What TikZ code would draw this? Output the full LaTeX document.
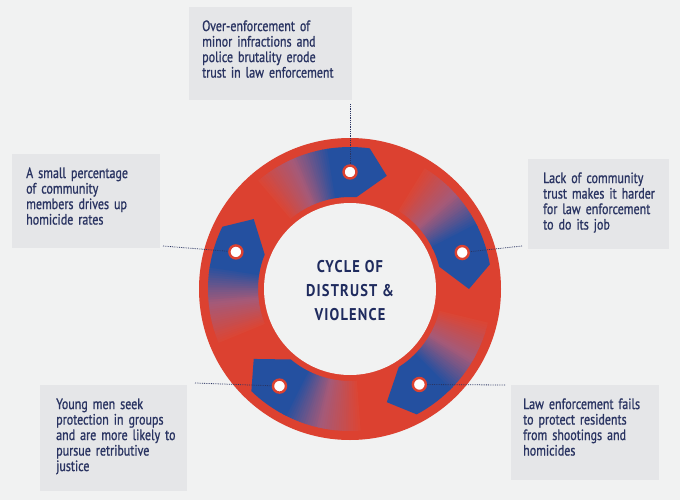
\documentclass[tikz,border=0pt]{standalone}
\usepackage{fontspec}
\setmainfont{PT Sans}[FakeStretch=0.8,FakeBold=1]
\newfontfamily\cycleTitleFont{PT Sans}[LetterSpace=7,FakeStretch=0.85]
\usepackage{tikz}
\usetikzlibrary{positioning}
\definecolor{cycleBg}{HTML}{F1F2F2}
\definecolor{cycleBox}{HTML}{E5E6E8}
\definecolor{cycleInk}{HTML}{2A3462}
\definecolor{cycleTitle}{HTML}{1F2B5E}
\definecolor{cycleRed}{HTML}{DC4130}
\definecolor{cycleFade}{HTML}{DA4636}
\definecolor{cycleMid}{HTML}{A65A78}
\definecolor{cycleBlue}{HTML}{2450A0}
\newcommand{\boxlines}[1]{\begin{tabular}[t]{@{}l@{}}#1\end{tabular}}

\begin{document}
\begin{tikzpicture}[
  x=1pt,y=-1pt,
  font=\fontsize{15}{15.5}\selectfont,
  box/.style={fill=cycleBox,text=cycleInk,anchor=north west,align=left,inner ysep=13pt},
  marker/.style={circle,fill=white,draw=cycleRed,line width=2.4pt,minimum size=13pt,inner sep=0pt},
  leader/.style={draw=cycleInk,densely dotted,line width=0.8pt}
]
\useasboundingbox[fill=cycleBg] (0,0) rectangle (680,500);

\node[box,text width=137pt,inner xsep=13pt,text depth=56pt] (enforce) at (189,7)
  {\boxlines{Over-enforcement of\\minor infractions and\\police brutality erode\\trust in law enforcement}};
\node[box,text width=111pt,inner xsep=15pt,text depth=53pt] (trust) at (528,159)
  {\boxlines{Lack of community\\trust makes it harder\\for law enforcement\\to do its job}};
\node[box,text width=124pt,inner xsep=12pt,text depth=58pt] (fails) at (511,385)
  {\boxlines{Law enforcement fails\\to protect residents\\from shootings and\\homicides}};
\node[box,text width=115pt,inner xsep=16pt,text depth=69pt] (young) at (40,385)
  {\boxlines{Young men seek\\protection in groups\\and are more likely to\\pursue retributive\\justice}};
\node[box,text width=120pt,inner xsep=14pt,text depth=57pt] (small) at (12,154)
  {\boxlines{A small percentage\\of community\\members drives up\\homicide rates}};

\begin{scope}[shift={(350,289)},y=1pt]
  \fill[cycleRed] (0,0) circle[radius=151];
  \fill[cycleBg] (0,0) circle[radius=86];
  \foreach \m in {90,18,-54,-126,162} {
    \foreach \i in {0,...,31} {
      \pgfmathsetmacro{\aa}{\m+40-\i}
      \pgfmathtruncatemacro{\p}{\i*100/31}
      \ifnum\p<50
        \pgfmathtruncatemacro{\q}{2*\p}
        \def\col{cycleMid!\q!cycleFade}
      \else
        \pgfmathtruncatemacro{\q}{2*\p-100}
        \def\col{cycleBlue!\q!cycleMid}
      \fi
      \fill[\col] ({\aa+0.3}:142) arc[start angle=\aa+0.3,end angle=\aa-1,radius=142]
        -- ({\aa-1}:92) arc[start angle=\aa-1,end angle=\aa+0.3,radius=92] -- cycle;
    }
    \fill[cycleBlue] ({\m+8.3}:142) arc[start angle=\m+8.3,end angle=\m-8,radius=142]
      -- ({\m-18}:119) -- ({\m-4}:92) arc[start angle=\m-4,end angle=\m+8.3,radius=92] -- cycle;
  }
  \node[marker] (m1) at (90:117) {};
  \node[marker] (m2) at (18:118) {};
  \node[marker] (m3) at (-54:118) {};
  \node[marker] (m4) at (-126:120) {};
  \node[marker] (m5) at (162:120) {};
  \node[font=\cycleTitleFont\bfseries\fontsize{17}{24}\selectfont,text=cycleTitle,align=center] (title) at (0,-2)
    {CYCLE OF\\DISTRUST \&\\VIOLENCE};
\end{scope}

\coordinate (e1) at (350,104);
\coordinate (e2) at (522,246);
\coordinate (e3) at (505,385);
\coordinate (e4) at (195,383);
\coordinate (e5) at (163,246);
\draw[leader] (e1) -- (m1);
\draw[leader] (e2) -- (m2);
\draw[leader] (e3) -- (m3);
\draw[leader] (e4) -- (m4);
\draw[leader] (e5) -- (m5);
\end{tikzpicture}
\end{document}
